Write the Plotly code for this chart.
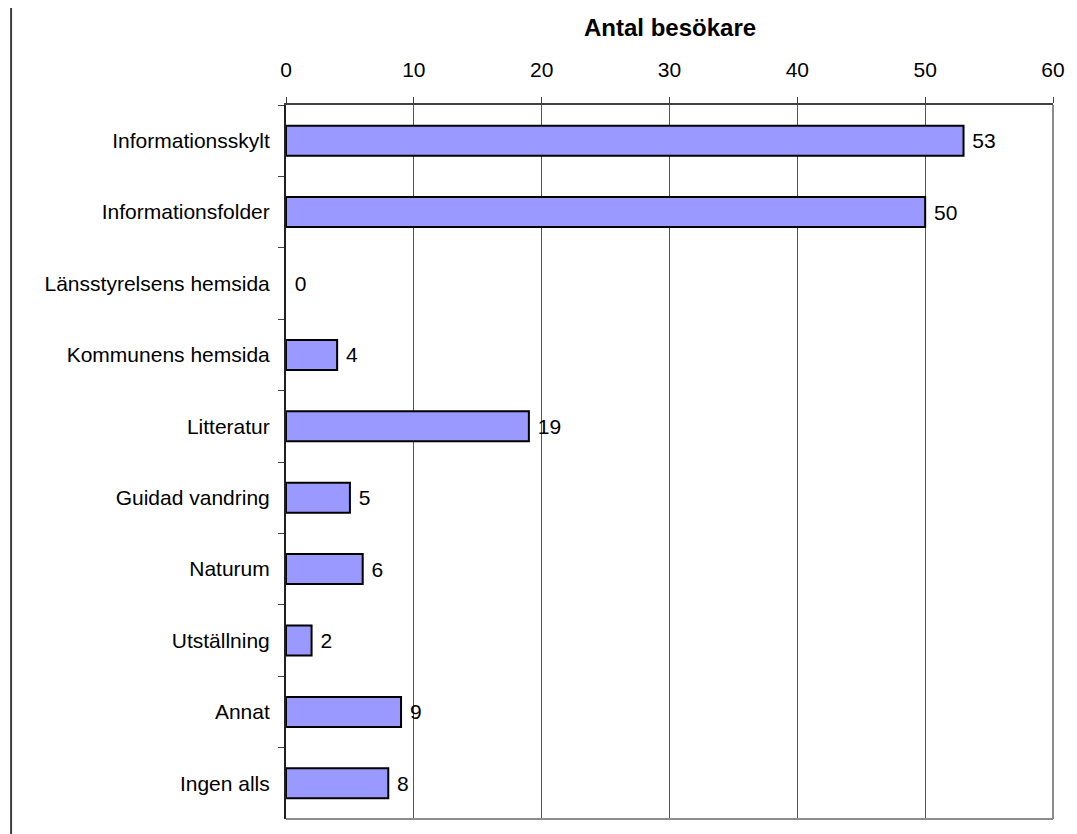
import plotly.graph_objects as go

categories = [
    "Informationsskylt",
    "Informationsfolder",
    "Länsstyrelsens hemsida",
    "Kommunens hemsida",
    "Litteratur",
    "Guidad vandring",
    "Naturum",
    "Utställning",
    "Annat",
    "Ingen alls",
]
visitors = [53, 50, 0, 4, 19, 5, 6, 2, 9, 8]
x_ticks = [0, 10, 20, 30, 40, 50, 60]

FONT = "Liberation Sans, Arial, sans-serif"
# the page body has an 8px margin, so the figure is shrunk by that much
W, H = 1069, 826
L, R, T, B = 278, 21, 97, 15
pw, ph = W - L - R, H - T - B

fig = go.Figure()
fig.add_trace(
    go.Bar(
        x=visitors,
        y=categories,
        orientation="h",
        width=0.42,
        marker=dict(
            color="#9999FF",
            # no outline for empty bars, so nothing shows at zero
            line=dict(color="black", width=[2 if v else 0 for v in visitors]),
        ),
        text=[f" {v}" for v in visitors],
        textposition="outside",
        textfont=dict(family=FONT, size=21, color="black"),
        cliponaxis=False,
        showlegend=False,
    )
)

fig.update_layout(
    width=W,
    height=H,
    margin=dict(l=L, r=R, t=T, b=B),
    plot_bgcolor="white",
    paper_bgcolor="white",
    font=dict(family=FONT, size=21, color="black"),
)

fig.update_xaxes(
    side="top",
    range=[0, 60],
    tickvals=x_ticks,
    showgrid=True,
    gridcolor="#555555",
    gridwidth=1,
    zeroline=False,
    showline=True,
    linecolor="#404040",
    linewidth=2,
    ticks="outside",
    ticklen=6,
    tickcolor="#404040",
    ticklabelstandoff=12,
)
fig.update_yaxes(
    autorange="reversed",
    showgrid=False,
    zeroline=False,
    showline=True,
    linecolor="#202020",
    linewidth=2,
    ticks="outside",
    tickson="boundaries",
    ticklen=6,
    tickcolor="#404040",
    ticklabelstandoff=10,
)

# gray right and bottom edge of plot area
fig.add_shape(type="line", xref="paper", yref="paper", x0=1, x1=1, y0=0, y1=1,
              line=dict(color="#8c8c8c", width=2))
fig.add_shape(type="line", xref="paper", yref="paper", x0=0, x1=1, y0=0, y1=0,
              line=dict(color="#8c8c8c", width=2))

# left border of the chart frame
fig.add_shape(type="line", xref="paper", yref="paper",
              x0=(2 - L) / pw, x1=(2 - L) / pw,
              y0=-0.1, y1=(T + 20) / ph + 1,
              line=dict(color="#404040", width=2))

fig.add_annotation(
    text="<b>Antal besökare</b>",
    xref="paper", yref="paper",
    x=0.5, y=1 + (T - 20) / ph,
    xanchor="center", yanchor="middle",
    showarrow=False,
    font=dict(family=FONT, size=24, color="black"),
)

fig.write_html("out.html")
